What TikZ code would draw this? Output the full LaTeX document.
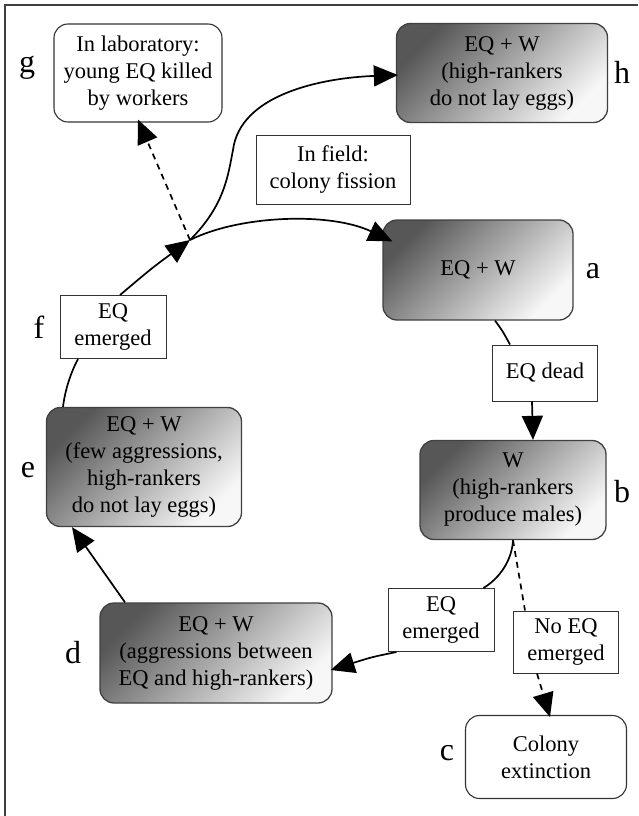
\documentclass[tikz,border=0pt]{standalone}
\usepackage{fontspec}
\setmainfont{Liberation Serif}
\usetikzlibrary{arrows.meta,calc}
\begin{document}
\begin{tikzpicture}[x=1pt,y=-1pt,
  txt/.style={font=\fontsize{22.5}{27}\selectfont, align=center, inner sep=0pt},
  gbox/.style={txt, draw=black!75, line width=1.3pt, rounded corners=14pt, top color=black!66, bottom color=black!3, shading angle=45},
  wbox/.style={txt, draw=black!80, line width=1.1pt, rounded corners=14pt, fill=white},
  lbox/.style={txt, draw=black!80, line width=1pt, fill=white},
  tag/.style={font=\fontsize{32}{32}\selectfont, anchor=base, inner sep=0pt},
  edge/.style={line width=1.7pt, black},
  tip/.style={-{Triangle[length=24pt,width=21pt]}},
  arr/.style={edge, tip},
  dedge/.style={edge, dash pattern=on 6pt off 5pt}
]
\useasboundingbox (0,0) rectangle (638,816);
\draw[black!75, line width=1.5pt] (5,816) -- (5,5) -- (638,5);

\node[wbox, minimum width=168pt, minimum height=98pt] (g) at (138,73) {In laboratory:\\young EQ killed\\by workers};
\node[gbox, minimum width=211pt, minimum height=99pt] (h) at (502,73) {EQ + W\\(high-rankers\\do not lay eggs)};
\node[lbox, minimum width=154pt, minimum height=69pt] (fis) at (333,170) {In field:\\colony fission};
\node[gbox, minimum width=190pt, minimum height=100pt] (a) at (478,270) {EQ + W};
\node[lbox, minimum width=105pt, minimum height=56pt] (dead) at (545,373) {EQ dead};
\node[gbox, minimum width=186pt, minimum height=99pt] (b) at (513,490) {W\\(high-rankers\\produce males)};
\node[lbox, minimum width=106pt, minimum height=63pt] (em2) at (441,620) {EQ\\emerged};
\node[lbox, minimum width=105pt, minimum height=62pt] (noeq) at (566,642) {No EQ\\emerged};
\node[wbox, minimum width=161pt, minimum height=83pt] (c) at (546,757) {Colony\\extinction};
\node[gbox, minimum width=232pt, minimum height=100pt] (d) at (216,653) {EQ + W\\(aggressions between\\EQ and high-rankers)};
\node[gbox, minimum width=195pt, minimum height=119pt] (e) at (144,467) {EQ + W\\(few aggressions,\\high-rankers\\do not lay eggs)};
\node[lbox, minimum width=106pt, minimum height=63pt] (f) at (113,327) {EQ\\emerged};

\node[tag] (tg) at (27,73) {g};
\node[tag] (th) at (622,83) {h};
\node[tag] (ta) at (593,278) {a};
\node[tag] (tb) at (622,502) {b};
\node[tag] (tc) at (447,760) {c};
\node[tag] (td) at (73,663) {d};
\node[tag] (te) at (28,477) {e};
\node[tag] (tf) at (39,338) {f};

\coordinate (J) at (190,240);

% a -> b
\draw[edge] ($(a.south)+(17,0)$) .. controls (502,330) .. ($(dead.north west)+(18,0)$);
\draw[arr] ($(dead.south)+(-13,0)$) -- ($(b.north)+(20,0)$);
% b -> d
\draw[edge] (b.south) .. controls (512,560) and (500,578) .. ($(em2.north east)+(-11,0)$);
\draw[arr] ($(em2.south west)+(9,0)$) .. controls (372,657) .. ($(d.east)+(-2,17)$);
% b -> c
\draw[dedge] (b.south) -- ($(noeq.north west)+(12,0)$);
\draw[dedge, tip] ($(noeq.south west)+(24,0)$) -- ($(c.north)+(4,2)$);
% d -> e
\draw[arr] ($(d.north)+(-91,0)$) -- ($(e.south)+(-72,0)$);
% e -> f
\draw[edge] ($(e.north)+(-81,0)$) .. controls (65,390) and (71,372) .. ($(f.south)+(-35,0)$);
% f -> J
\draw[arr] ($(f.north)+(7,0)$) .. controls (152,268) .. (J);
% J -> a
\draw[arr] (J) .. controls (240,215) and (330,212) .. ($(a.north west)+(10,22)$);
% J -> h
\draw[arr] (J) .. controls (225,205) and (228,175) .. (233,150)
  .. controls (240,95) and (320,78) .. ($(h.west)+(2,2)$);
% J -> g
\draw[dedge, tip] (J) -- ($(g.south)+(0,-3)$);
\end{tikzpicture}
\end{document}
